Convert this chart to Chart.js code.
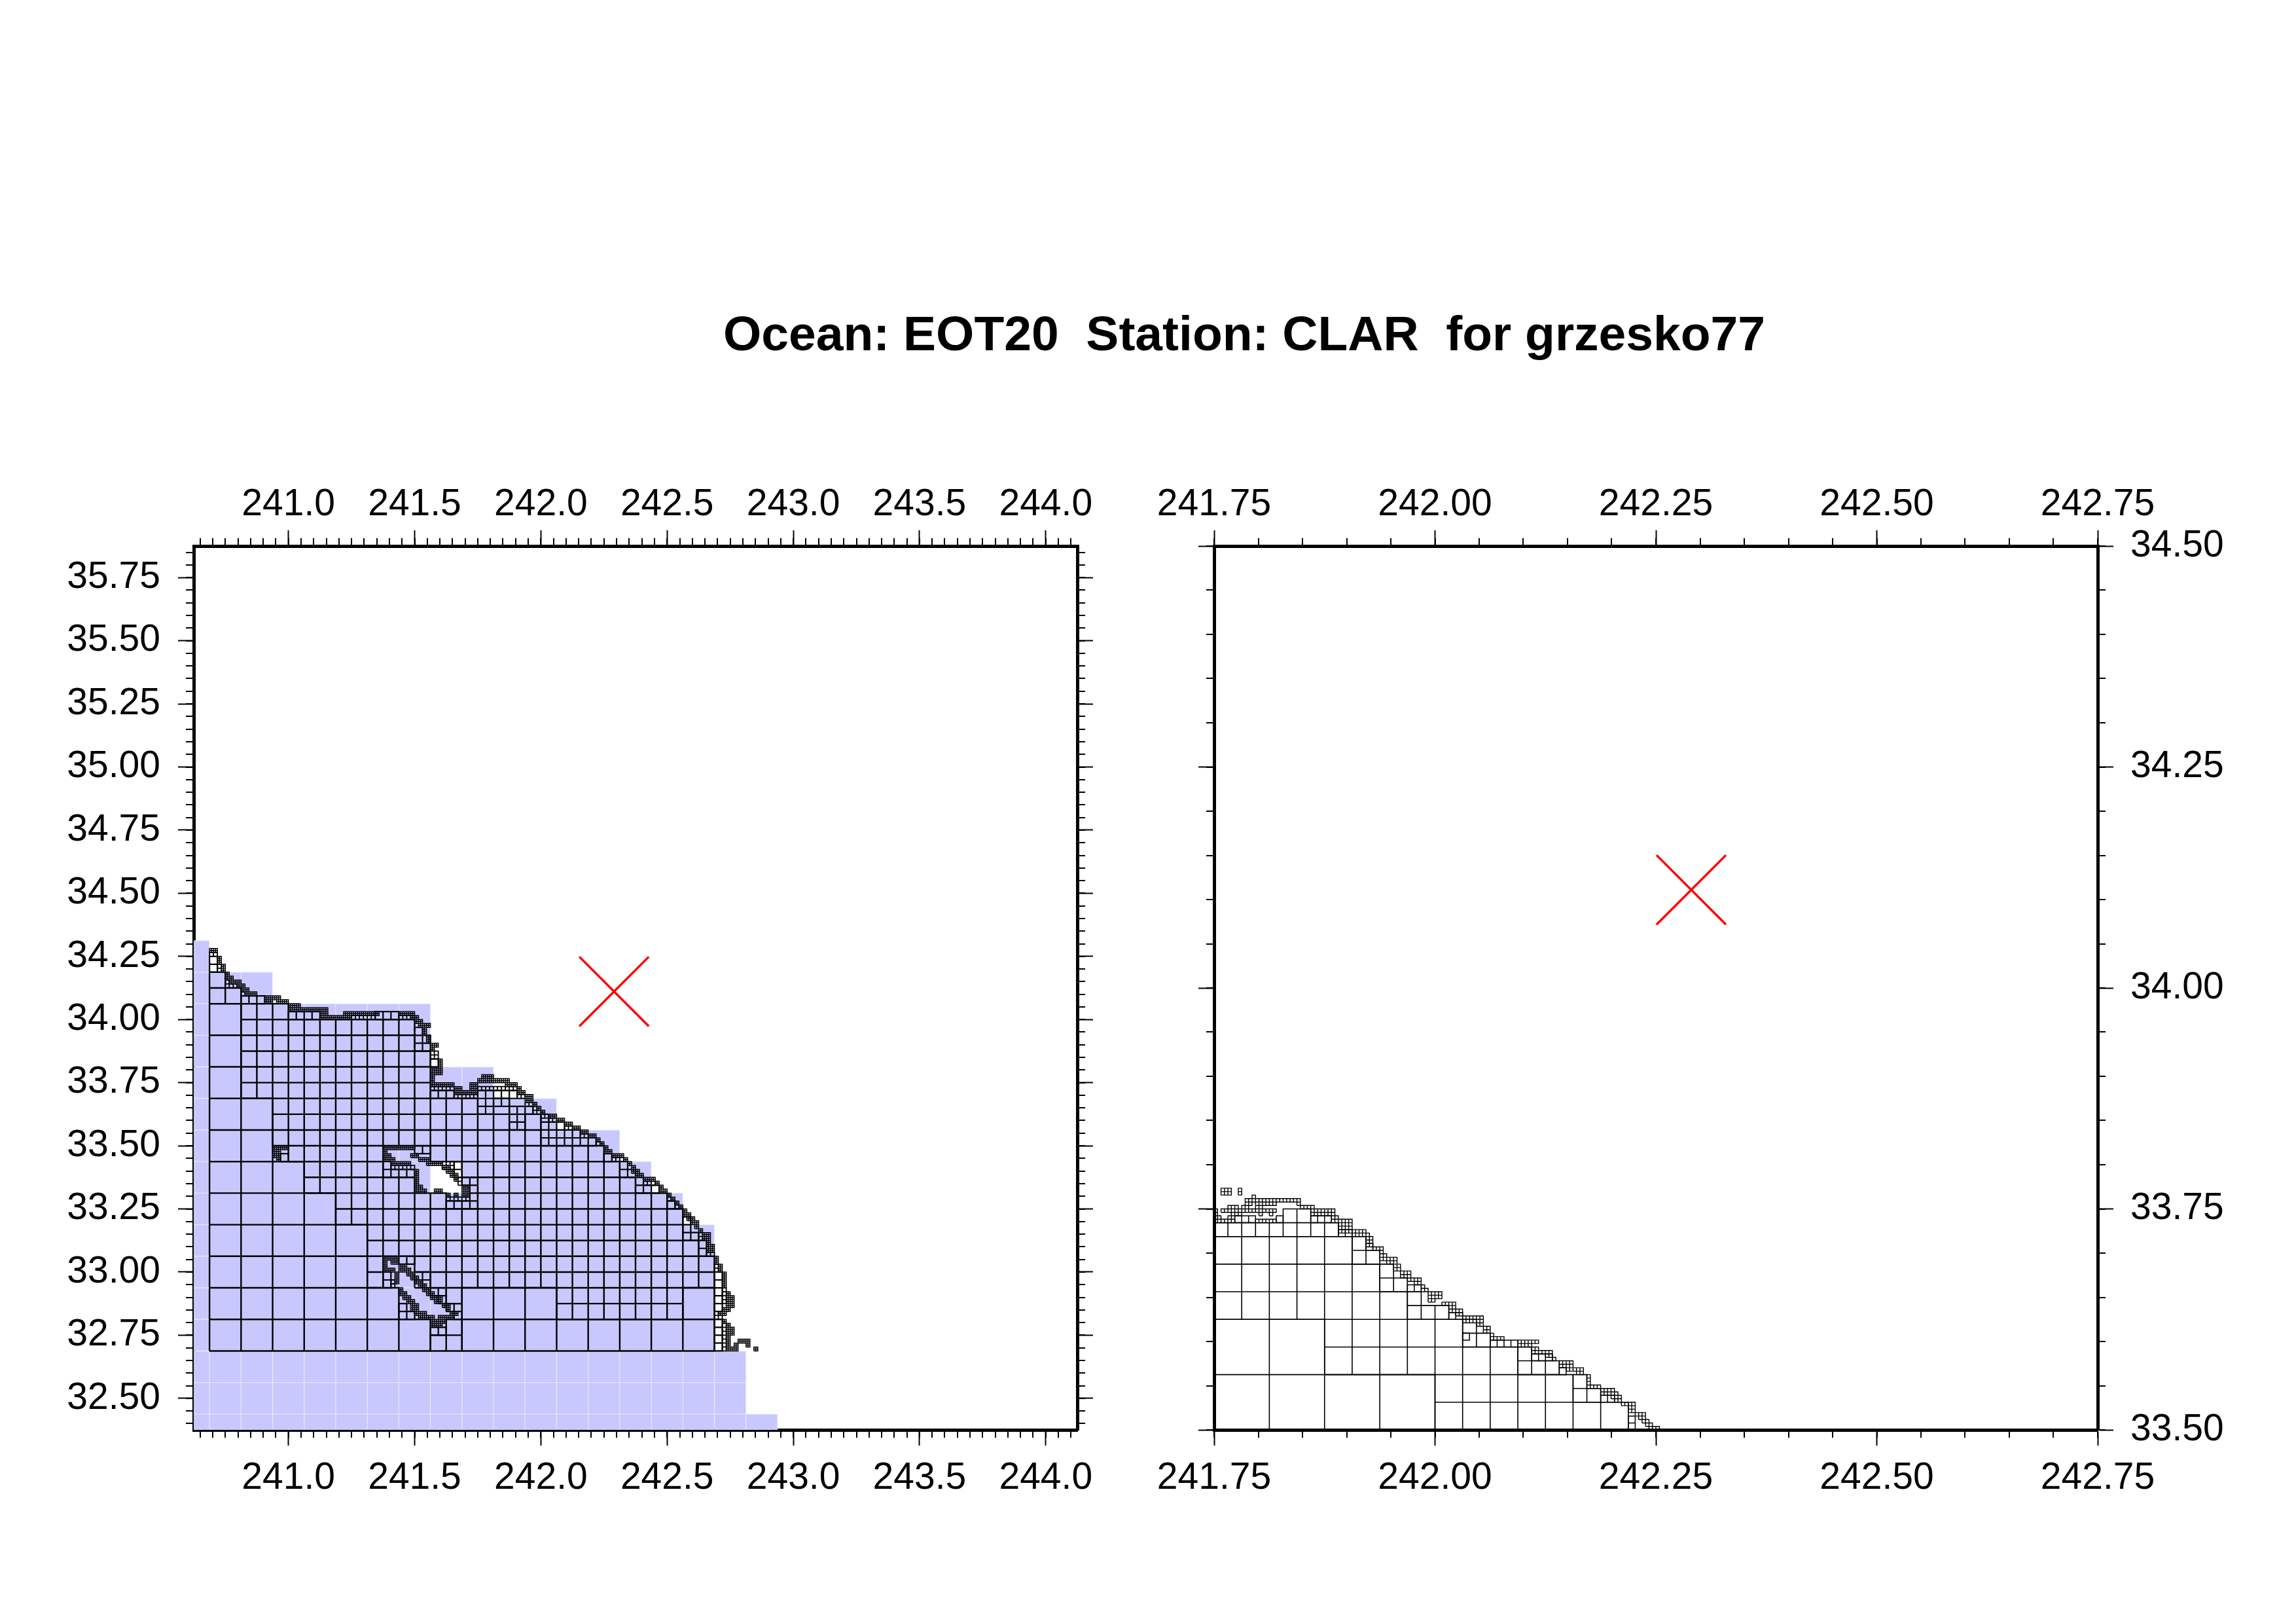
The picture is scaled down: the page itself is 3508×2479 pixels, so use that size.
<!DOCTYPE html>
<html>
<head>
<meta charset="utf-8">
<title>Ocean: EOT20 Station: CLAR for grzesko77</title>
<script src="https://cdn.jsdelivr.net/npm/chart.js@4/dist/chart.umd.js"></script>
<style>
  html, body { margin: 0; background: #fff; }
  body { position: relative; width: 3508px; height: 2479px; overflow: hidden; }
  canvas { position: absolute; }
  #title { position: absolute; left: 1105px; top: 472px; font: bold 75px/75px "Liberation Sans", sans-serif; white-space: pre; color: #000; }
</style>
</head>
<body>
<div id="title">Ocean: EOT20  Station: CLAR  for grzesko77</div>
<canvas id="left-map" width="1780" height="1620" style="left:0;top:700px"></canvas>
<canvas id="right-map" width="1808" height="1620" style="left:1700px;top:700px"></canvas>
<script>
// axes
const leftLonRange = [240.625, 244.125];
const leftLatRange = [32.375, 35.875];
const rightLonRange = [241.75, 242.75];
const rightLatRange = [33.5, 34.5];
const leftLonTicks = [241, 241.5, 242, 242.5, 243, 243.5, 244];
const leftLatTicks = [32.5, 32.75, 33, 33.25, 33.5, 33.75, 34, 34.25, 34.5, 34.75, 35, 35.25, 35.5, 35.75];
const rightLonTicks = [241.75, 242, 242.25, 242.5, 242.75];
const rightLatTicks = [33.5, 33.75, 34, 34.25, 34.5];

// station
const stationLon = [242.29];
const stationLat = [34.111];

// blue model cells: left edge of each column and the top latitude it reaches
const blueColumns = [240.5625, 240.6875, 240.8125, 240.9375, 241.0625, 241.1875, 241.3125, 241.4375, 241.5625, 241.6875, 241.8125, 241.9375, 242.0625, 242.1875, 242.3125, 242.4375, 242.5625, 242.6875, 242.8125];
const blueTops = [34.3125, 34.1875, 34.1875, 34.0625, 34.0625, 34.0625, 34.0625, 34.0625, 33.8125, 33.8125, 33.6875, 33.6875, 33.5625, 33.5625, 33.4375, 33.3125, 33.1875, 32.6875, 32.4375];
const blueBottom = 32.3125;
const blueHole = [241.5625, 33.3125];

// left mesh: [row, first column, end column], in 1/64 degree from 240.6875, 32.6875
const leftCoarse = [[0,0,56],[0,64,128],[8,0,48],[8,64,88],[8,120,128],[16,0,40],[24,0,40],[32,0,32],[40,0,24],[48,0,16],[56,0,16],[64,0,8],[72,0,8],[80,0,8]];
const leftMedium = [[0,56,64],[4,60,64],[8,88,120],[12,60,64],[12,88,120],[16,40,44],[16,56,128],[20,40,44],[20,52,128],[24,40,124],[28,40,120],[32,32,120],[36,32,60],[36,68,116],[40,24,52],[40,68,108],[44,24,44],[44,64,104],[48,20,44],[48,56,100],[52,16,84],[56,16,76],[56,80,84],[60,16,68],[60,72,76],[64,8,56],[68,8,56],[72,8,56],[76,8,52],[80,8,52],[84,8,20],[88,0,8],[92,0,4]];
const leftFine = [[96,0,2],[98,0,2],[88,8,14],[84,20,28],[84,42,48],[80,52,54],[78,52,56],[76,52,56],[72,56,58],[64,56,62],[64,68,78],[62,68,76],[60,68,72],[60,76,82],[58,76,80],[58,84,86],[56,76,80],[56,84,90],[54,84,94],[52,84,98],[48,100,102],[46,104,106],[44,104,108],[42,108,110],[40,108,114],[36,116,118],[32,120,122],[30,120,122],[28,120,124],[26,124,126],[24,124,126],
  [50,52,56],[46,62,64],[44,62,64],[42,64,68],[40,66,68],[38,66,68],[36,60,68],[46,44,46],[44,44,52],
  [18,44,46],[16,44,46],[22,48,52],[16,52,56],[18,52,56],[14,56,60],[12,58,60],[10,60,64],[8,62,64],[10,48,50],[8,48,52],[4,56,60],[48,18,20],
  [18,128,130],[16,128,130],[14,128,130],[12,128,130],[10,128,130],[6,128,130],[4,128,130],[2,128,130],[0,128,130]];
const leftSmall = [[100,0,2],[96,2,3],[97,2,3],[92,4,7],[93,4,5],[90,8,9],[84,36,42],[84,48,50],[84,50,52],[74,56,58],[75,56,58],[66,56,62],[64,62,68],[66,68,78],[64,78,80],[62,80,82],[61,82,83],[60,82,84],[59,84,86],[58,86,88],[56,90,92],[54,94,96],[52,98,99],[48,102,105],[42,110,113],[38,116,117],[36,118,119],[28,124,125],[29,124,125],[24,126,128],[21,128,129],[20,128,129],[15,130,131],[14,130,131],[13,130,131],[12,130,131],[9,128,129],[8,128,130],[6,130,131],[5,130,131],[4,130,131],[3,130,131],[2,130,131],[1,130,131],[0,130,131],
  [47,59,62],[46,59,62],[43,63,64],[42,63,64],[38,60,66],[46,46,52],[17,46,47],[16,46,47]];
const leftTiny = [[101,0,2],[98,2,3],[99,2,3],[96,3,4],[97,3,4],[94,4,6],[95,4,5],[93,5,7],[92,7,9],[93,7,8],[91,8,10],[90,9,12],[88,14,16],[89,14,18],[88,17,20],[87,20,23],[86,20,30],[85,28,30],[84,28,32],[84,32,36],[85,34,43],[85,48,52],[84,51,53],[83,52,54],[82,53,56],[81,54,55],[80,54,55],[79,55,56],[78,55,56],[76,56,57],[77,56,58],[73,58,59],[72,58,59],[71,56,59],[70,56,59],[69,56,57],[68,56,57],[67,56,62],[66,62,64],[65,62,68],[66,66,68],[67,66,68],[68,68,76],[67,75,78],[69,69,72],[66,78,79],[65,78,80],[64,80,82],[63,80,82],[62,82,83],[61,83,84],[60,84,85],[59,86,88],[58,88,90],[57,90,92],[56,92,94],[55,94,96],[54,96,98],[53,98,99],[52,99,100],[51,100,101],[50,100,102],[49,102,105],[48,105,106],[47,106,107],[46,107,108],[45,107,109],[44,108,110],[43,110,113],[42,113,114],[41,114,115],[40,114,116],[39,116,117],[38,117,118],[37,118,119],[36,119,120],[35,120,121],[34,120,122],[33,121,123],[32,122,124],[31,123,124],[30,124,125],[29,125,127],[28,125,127],[27,126,127],[26,126,128],[25,126,128],[23,128,129],[22,128,129],[21,129,130],[20,129,130],[19,130,131],[18,130,131],[17,130,131],[16,130,131],[14,131,132],[13,131,133],[12,131,133],[11,131,133],[10,130,132],[9,129,131],[7,130,131],[6,131,132],[5,131,133],[4,131,133],[3,131,132],[2,131,132],[1,131,132],[0,131,133],[0,133,134],[1,133,134],[2,134,137],[1,136,137],[0,138,139],
  // island coasts
  [51,44,52],[50,44,45],[49,44,46],[49,51,53],[48,44,47],[48,53,56],[47,46,51],[47,55,59],[46,59,61],[45,60,62],[44,61,63],[43,62,63],[41,64,66],[40,64,66],[39,64,66],[39,60,61],[39,62,63],[40,57,59],[40,52,55],[41,52,54],[42,52,53],[43,52,53],[44,52,53],[45,52,53],
  [23,44,48],[22,44,45],[22,46,48],[21,44,45],[20,44,47],[19,47,48],[18,47,48],[17,47,48],[21,48,50],[20,48,51],[19,50,52],[18,51,53],[17,52,54],[16,53,55],[15,54,56],[14,55,57],[13,56,59],[12,57,59],[11,59,61],[10,60,61],[15,48,49],[14,48,50],[13,49,51],[12,50,52],[11,51,53],[10,51,53],[9,52,55],[8,53,57],[7,56,60],[6,56,59],[8,58,62],[9,61,63],
  [51,16,20],[50,16,18],[49,16,18],[48,17,18]];

// right mesh: [row, first column, end column], in 1/256 degree from 241.75, 33.5
const rightCoarse = [[0,0,64],[16,0,32]];
const rightMedium = [[0,64,120],[8,64,104],[16,32,88],[24,32,72],[32,0,56],[40,0,48],[48,0,40]];
const rightFine = [[56,0,36],[12,104,108],[8,104,112],[16,88,100],[20,88,92],[24,72,80],[28,72,76],[32,56,68],[36,56,60],[40,48,56],[44,48,52],[48,40,48],[52,40,44],[60,20,28]];
const rightSmall = [[56,36,40],[60,6,12],[60,28,34],[60,18,20],[52,44,46],[40,56,60],[32,68,72],[26,72,74],[24,80,88],[20,92,98],[16,100,102],[8,112,116],[0,120,122],[2,120,122]];
const rightTiny = [[68,2,5],[69,2,5],[68,7,8],[69,7,8],[67,11,12],[66,9,25],[65,9,11],[65,12,18],[65,24,25],[64,25,29],[64,4,7],[64,8,10],[64,12,14],[63,0,1],[63,2,5],[63,6,18],[62,0,1],[62,5,8],[62,13,14],[62,16,17],[61,0,2],[61,4,6],[60,0,6],[60,12,18],
  [63,28,35],[62,28,35],[61,34,36],[60,34,40],[59,36,40],[58,36,40],[57,36,44],[56,40,45],[55,44,46],[54,44,46],[53,44,46],[52,46,49],[51,48,49],[50,48,50],[49,48,53],[48,50,53],[47,52,54],[46,52,54],[45,54,57],[44,54,57],[43,56,60],[42,58,60],[41,60,61],[40,60,62],[39,62,66],[38,62,66],[37,62,64],[36,66,70],[35,68,70],[34,68,72],[33,70,72],[32,72,78],[31,72,78],[30,76,78],[29,78,80],[28,78,80],[27,80,81],[26,80,84],[25,88,94],[24,88,92],[23,92,94],[22,92,98],[21,96,98],[20,98,99],[19,100,104],[18,100,104],[17,102,107],[16,105,107],[15,108,109],[14,108,109],[13,108,109],[12,108,112],[11,112,116],[10,112,117],[9,115,118],[8,116,118],[7,118,122],[6,120,122],[5,120,122],[4,122,125],[3,123,125],[2,124,126],[1,125,127],[0,126,129]];

function meshPoints(runs, size, unit, lon0, lat0) {
  const pts = [];
  runs.forEach(([row, first, end]) => {
    for (let c = first; c < end; c += size) {
      const x0 = lon0 + c * unit, x1 = lon0 + (c + size) * unit;
      const y0 = lat0 + row * unit, y1 = lat0 + (row + size) * unit;
      pts.push({x: x0, y: y0}, {x: x1, y: y0}, {x: x1, y: y1}, {x: x0, y: y1}, {x: x0, y: y0}, {x: null, y: null});
    }
  });
  return pts;
}

// each tiny cell is split in four
function splitRuns(runs) {
  const out = [];
  runs.forEach(([row, first, end]) => { out.push([row, first, end], [row + 0.5, first, end]); });
  return out;
}

function blueBars() {
  const bars = [];
  blueColumns.forEach((lon, i) => {
    for (let lat = blueBottom; lat < blueTops[i]; lat += 0.125) {
      if (lon === blueHole[0] && lat === blueHole[1]) continue;
      bars.push({x: lon + 0.0625, y: [lat, lat + 0.125]});
    }
  });
  return bars;
}

function meshDataset(data, width) {
  return {type: 'scatter', data, showLine: true, spanGaps: false, pointRadius: 0, borderColor: '#000', borderWidth: width, clip: 0, order: 1};
}

function stationDataset() {
  return {type: 'scatter', data: stationLon.map((x, i) => ({x, y: stationLat[i]})), showLine: false, pointStyle: 'crossRot', pointRadius: 75, pointBorderColor: '#ff0000', pointBorderWidth: 3.5, pointBackgroundColor: 'transparent', clip: false, order: 0};
}

function axis(position, range, ticks, decimals, showLabels, size, padding) {
  const horizontal = position === 'top' || position === 'bottom';
  return {
    type: 'linear', position, min: range[0], max: range[1], offset: false,
    afterBuildTicks: s => { s.ticks = ticks.map(value => ({value})); },
    afterFit: s => { if (horizontal) s.height = size; else s.width = size; },
    border: {display: true, color: '#000', width: 5},
    grid: {drawOnChartArea: false, drawTicks: true, tickLength: 24, tickWidth: 2, tickColor: '#000', offset: false},
    ticks: {display: showLabels, autoSkip: false, maxRotation: 0, minRotation: 0, padding, color: '#000',
      font: {family: '"Liberation Sans"', size: 57},
      callback: v => Number(v).toFixed(decimals)}
  };
}

// short ticks every 0.05 degree on all four sides
const minorTicks = {
  id: 'minorTicks',
  afterDraw(chart) {
    const ctx = chart.ctx, area = chart.chartArea;
    ctx.save();
    ctx.strokeStyle = '#000';
    ctx.lineWidth = 2;
    ctx.beginPath();
    Object.values(chart.scales).forEach(s => {
      for (let n = Math.ceil(s.min * 20 - 1e-6); n / 20 <= s.max + 1e-6; n++) {
        const p = Math.round(s.getPixelForValue(n / 20));
        if (s.position === 'bottom') { ctx.moveTo(p, area.bottom); ctx.lineTo(p, area.bottom + 12); }
        if (s.position === 'top') { ctx.moveTo(p, area.top); ctx.lineTo(p, area.top - 12); }
        if (s.position === 'left') { ctx.moveTo(area.left, p); ctx.lineTo(area.left - 12, p); }
        if (s.position === 'right') { ctx.moveTo(area.right, p); ctx.lineTo(area.right + 12, p); }
      }
    });
    ctx.stroke();
    ctx.restore();
  }
};

const baseOptions = {
  responsive: false, animation: false, devicePixelRatio: 1,
  layout: {padding: 0},
  plugins: {legend: {display: false}, tooltip: {enabled: false}, title: {display: false}},
  events: []
};

new Chart(document.getElementById('left-map'), {
  type: 'scatter',
  plugins: [minorTicks],
  data: {datasets: [
    stationDataset(),
    meshDataset(meshPoints(leftCoarse, 8, 1 / 64, 240.6875, 32.6875), 2.4),
    meshDataset(meshPoints(leftMedium, 4, 1 / 64, 240.6875, 32.6875), 2.4),
    meshDataset(meshPoints(leftFine, 2, 1 / 64, 240.6875, 32.6875), 2.2),
    meshDataset(meshPoints(leftSmall, 1, 1 / 64, 240.6875, 32.6875), 1.8),
    meshDataset(meshPoints(splitRuns(leftTiny), 0.5, 1 / 64, 240.6875, 32.6875), 1.5),
    {type: 'bar', data: blueBars(), backgroundColor: '#c8c8ff', borderColor: '#e4e4ff', borderWidth: 1, borderSkipped: false, grouped: false, barPercentage: 1, categoryPercentage: 1, clip: 0, order: 2}
  ]},
  options: {...baseOptions, scales: {
    x: axis('bottom', leftLonRange, leftLonTicks, 1, true, 136, 16),
    xTop: axis('top', leftLonRange, leftLonTicks, 1, true, 134, 5),
    y: axis('left', leftLatRange, leftLatTicks, 2, true, 296, 27),
    yRight: axis('right', leftLatRange, leftLatTicks, 2, false, 134, 0)
  }}
});

new Chart(document.getElementById('right-map'), {
  type: 'scatter',
  plugins: [minorTicks],
  data: {datasets: [
    stationDataset(),
    meshDataset(meshPoints(rightCoarse, 16, 1 / 256, 241.75, 33.5), 1.6),
    meshDataset(meshPoints(rightMedium, 8, 1 / 256, 241.75, 33.5), 1.6),
    meshDataset(meshPoints(rightFine, 4, 1 / 256, 241.75, 33.5), 1.6),
    meshDataset(meshPoints(rightSmall, 2, 1 / 256, 241.75, 33.5), 1.5),
    meshDataset(meshPoints(rightTiny, 1, 1 / 256, 241.75, 33.5), 1.4)
  ]},
  options: {...baseOptions, scales: {
    x: axis('bottom', rightLonRange, rightLonTicks, 2, true, 136, 16),
    xTop: axis('top', rightLonRange, rightLonTicks, 2, true, 134, 5),
    y: axis('left', rightLatRange, rightLatTicks, 2, false, 155, 0),
    yRight: axis('right', rightLatRange, rightLatTicks, 2, true, 303, 26)
  }}
});
</script>
</body>
</html>
